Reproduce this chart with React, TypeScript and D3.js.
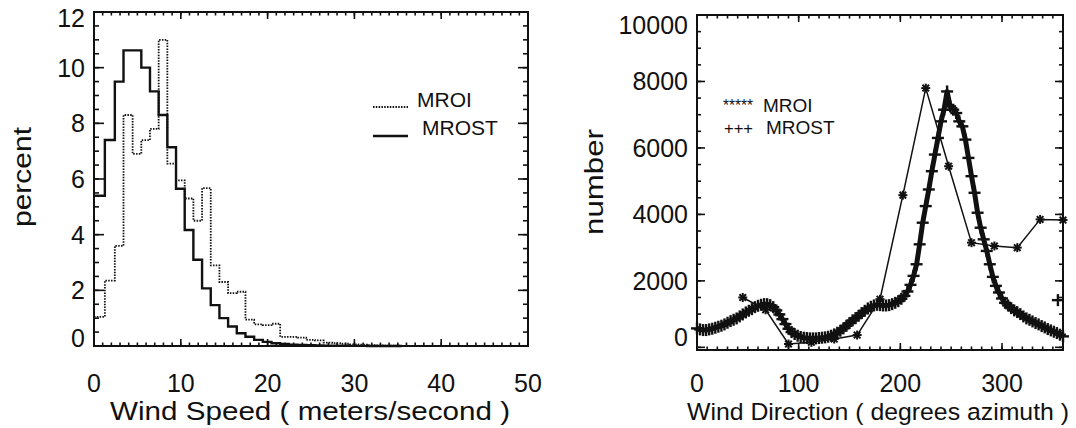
import React from 'react';
import * as d3 from 'd3';

// ---------- Left panel: wind speed histograms ----------
const speedEdges = [0, 1.25, 2.4, 3.4, 4.45, 5.45, 6.45, 7.45, 8.45, 9.45, 10.45, 11.45, 12.45, 13.45, 14.45, 15.45, 16.45, 17.45, 18.45, 19.45, 20.45, 21.45, 22.45, 23.45, 24.45, 25.45, 26.45, 27.45, 28.45, 29.45, 30.45, 31.45, 32.45, 33.45, 34.45, 35.45];
const mroiPct = [1.05, 2.35, 3.6, 8.3, 6.9, 7.4, 7.8, 11.0, 6.55, 5.95, 5.3, 4.5, 5.67, 2.9, 2.3, 1.9, 1.95, 0.95, 0.78, 0.75, 0.8, 0.33, 0.33, 0.3, 0.22, 0.2, 0.12, 0.1, 0.08, 0.06, 0.05, 0.03, 0.02, 0.01, 0.01];
const mrostPct = [5.4, 7.4, 9.5, 10.62, 10.62, 10.0, 9.15, 8.3, 7.14, 5.65, 4.17, 3.1, 2.07, 1.47, 1.0, 0.7, 0.46, 0.33, 0.22, 0.15, 0.1, 0.07, 0.05, 0.04, 0.03, 0.02, 0.015, 0.01, 0.01, 0.005, 0.005, 0, 0, 0, 0];
const speedTicks = [0, 10, 20, 30, 40, 50];
const pctTicks = [0, 2, 4, 6, 8, 10, 12];

// ---------- Right panel: wind direction counts ----------
const mrostDeg = [0, 3, 6, 9, 12, 15, 18, 21, 24, 27, 30, 33, 36, 39, 42, 45, 48, 51, 54, 57, 60, 63, 66, 69, 72, 75, 78, 81, 84, 87, 90, 93, 96, 99, 102, 105, 108, 111, 114, 117, 120, 123, 126, 129, 132, 135, 138, 141, 144, 147, 150, 153, 156, 159, 162, 165, 168, 171, 174, 177, 180, 183, 186, 189, 192, 195, 198, 201, 204, 207, 210, 213, 216, 219, 222, 225, 228, 231, 234, 237, 240, 243, 246, 249, 252, 255, 258, 261, 264, 267, 270, 273, 276, 279, 282, 285, 288, 291, 294, 297, 300, 303, 306, 309, 312, 315, 318, 321, 324, 327, 330, 333, 336, 339, 342, 345, 348, 351, 354, 357, 360];
const mrostCount = [570, 540, 520, 520, 540, 560, 590, 620, 650, 690, 740, 790, 830, 870, 930, 990, 1050, 1100, 1150, 1210, 1250, 1280, 1300, 1300, 1270, 1210, 1110, 990, 850, 700, 560, 460, 400, 350, 310, 290, 280, 270, 270, 270, 280, 290, 300, 320, 350, 390, 440, 500, 570, 650, 730, 810, 880, 950, 1030, 1100, 1170, 1220, 1260, 1280, 1270, 1260, 1260, 1270, 1300, 1340, 1390, 1460, 1550, 1680, 1880, 2150, 2500, 3100, 3750, 4250, 4750, 5300, 5800, 6300, 6800, 7150, 7700, 7250, 7150, 7050, 6800, 6650, 6250, 5700, 5150, 4650, 4050, 3600, 3250, 2900, 2500, 2120, 1850, 1650, 1470, 1340, 1260, 1180, 1110, 1060, 1000, 930, 870, 830, 780, 730, 690, 640, 600, 550, 510, 470, 430, 380, 330];
const mrostExtraDeg = [355];
const mrostExtraCount = [1420];
const mroiDeg = [45, 67.5, 90, 112.5, 135, 157.5, 180, 202.5, 225, 247.5, 270, 292.5, 315, 337.5, 360];
const mroiCount = [1500, 1130, 100, 150, 250, 370, 1450, 4580, 7800, 5450, 3150, 3050, 3000, 3850, 3830];
const dirTicks = [0, 100, 200, 300];
const countTicks = [0, 2000, 4000, 6000, 8000, 10000];

const FONT = "'Liberation Sans', Arial, Helvetica, sans-serif";
const INK = '#111';

type Lin = d3.ScaleLinear<number, number>;

function Frame(props: {
  x: Lin; y: Lin;
  xMajor: number[]; xMinor: number[]; yMajor: number[]; yMinor: number[];
  xMaj: number; xMin: number; yMaj: number; yMin: number;
  xLabels: number[]; yLabels: number[];
  topShift: number; bottomShift: number;
}) {
  const { x, y } = props;
  const [x0, x1] = x.range();
  const [y0, y1] = y.range(); // y0 bottom, y1 top
  const els: React.ReactNode[] = [];
  props.xMinor.forEach((v, i) => {
    const px = x(v);
    els.push(<line key={'xb' + i} x1={px} x2={px} y1={y0} y2={y0 - props.xMin} />);
    els.push(<line key={'xt' + i} x1={px} x2={px} y1={y1} y2={y1 + props.xMin} />);
  });
  props.xMajor.forEach((v, i) => {
    const px = x(v);
    els.push(<line key={'XB' + i} x1={px} x2={px} y1={y0} y2={y0 - props.xMaj} />);
    els.push(<line key={'XT' + i} x1={px} x2={px} y1={y1} y2={y1 + props.xMaj} />);
  });
  props.yMinor.forEach((v, i) => {
    const py = y(v);
    els.push(<line key={'yl' + i} x1={x0} x2={x0 + props.yMin} y1={py} y2={py} />);
    els.push(<line key={'yr' + i} x1={x1} x2={x1 - props.yMin} y1={py} y2={py} />);
  });
  props.yMajor.forEach((v, i) => {
    const py = y(v);
    els.push(<line key={'YL' + i} x1={x0} x2={x0 + props.yMaj} y1={py} y2={py} />);
    els.push(<line key={'YR' + i} x1={x1} x2={x1 - props.yMaj} y1={py} y2={py} />);
  });
  const yl = props.yLabels;
  return (
    <g>
      <g stroke={INK} strokeWidth={1.6}>{els}</g>
      <rect x={x0} y={y1} width={x1 - x0} height={y0 - y1} fill="none" stroke={INK} strokeWidth={2} />
      <g fontFamily={FONT} fontSize={25} fill={INK}>
        {props.xLabels.map((v) => (
          <text key={'xl' + v} x={x(v)} y={392} textAnchor="middle">{v}</text>
        ))}
        {yl.map((v, i) => {
          const shift = i === 0 ? props.bottomShift : i === yl.length - 1 ? props.topShift : 0;
          return (
            <text key={'yl' + v} x={x0 - 9} y={y(v) + shift} dy="0.36em" textAnchor="end">{v}</text>
          );
        })}
      </g>
    </g>
  );
}

function histPath(edges: number[], vals: number[], x: Lin, y: Lin) {
  const pts: [number, number][] = vals.map((v, i) => [edges[i], v]);
  pts.push([edges[vals.length], vals[vals.length - 1]]);
  return d3.line<[number, number]>().x((d) => x(d[0])).y((d) => y(d[1])).curve(d3.curveStepAfter)(pts) || '';
}

export default function App() {
  // Left
  const xs = d3.scaleLinear().domain([0, 50]).range([94, 528]);
  const ys = d3.scaleLinear().domain([0, 12]).range([346, 12]);
  // Right
  const xd = d3.scaleLinear().domain([0, 360]).range([697, 1063]);
  const yd = d3.scaleLinear().domain([-80, 10000]).range([350, 15]);

  const mrostPts: [number, number][] = mrostDeg.map((d, i) => [d, mrostCount[i]]);
  const mroiPts: [number, number][] = mroiDeg.map((d, i) => [d, mroiCount[i]]);
  const dirLine = d3.line<[number, number]>().x((d) => xd(d[0])).y((d) => yd(d[1]));
  const plusPts = mrostPts.concat(mrostExtraDeg.map((d, i) => [d, mrostExtraCount[i]] as [number, number]));

  return (
    <svg width={1076} height={428} style={{ position: 'absolute', left: 0, top: 0, background: '#fff' }}>
      <rect x={0} y={0} width={1076} height={428} fill="#fff" />
      {/* Left panel */}
      <Frame x={xs} y={ys}
        xMajor={speedTicks} xMinor={d3.range(0, 50.01, 1)}
        yMajor={pctTicks} yMinor={d3.range(0, 12.01, 0.5)}
        xMaj={7} xMin={3.5} yMaj={10} yMin={5}
        xLabels={speedTicks} yLabels={pctTicks} topShift={6} bottomShift={-8} />
      <path d={histPath(speedEdges, mroiPct, xs, ys)} fill="none" stroke={INK} strokeWidth={1.8} strokeDasharray="1.5 1.3" />
      <path d={histPath(speedEdges, mrostPct, xs, ys)} fill="none" stroke={INK} strokeWidth={2.4} />
      {/* left legend */}
      <line x1={373} x2={408} y1={107} y2={107} stroke={INK} strokeWidth={1.8} strokeDasharray="1.5 1.3" />
      <line x1={373} x2={408} y1={136} y2={136} stroke={INK} strokeWidth={2.4} />
      <g fontFamily={FONT} fontSize={21} fill={INK}>
        <text x={417} y={107}>MROI</text>
        <text x={422} y={135}>MROST</text>
      </g>
      <g fontFamily={FONT} fontSize={26} fill={INK}>
        <text x={110} y={420} textLength={400} lengthAdjust="spacingAndGlyphs">Wind Speed ( meters/second )</text>
        <text transform="translate(31,177) rotate(-90)" textAnchor="middle" textLength={100} lengthAdjust="spacingAndGlyphs">percent</text>
      </g>

      {/* Right panel */}
      <Frame x={xd} y={yd}
        xMajor={dirTicks} xMinor={d3.range(0, 360.01, 10)}
        yMajor={countTicks} yMinor={d3.range(0, 10000.01, 500)}
        xMaj={7} xMin={3.5} yMaj={8} yMin={4}
        xLabels={dirTicks} yLabels={countTicks} topShift={10} bottomShift={-10} />
      <path d={dirLine(mrostPts) || ''} fill="none" stroke={INK} strokeWidth={5} strokeLinejoin="round" />
      <g stroke={INK} strokeWidth={2.4}>
        {plusPts.map((p, i) => {
          const cx = xd(p[0]);
          const cy = yd(p[1]);
          return (
            <g key={'p' + i}>
              <line x1={cx - 6} x2={cx + 6} y1={cy} y2={cy} />
              <line x1={cx} x2={cx} y1={cy - 6} y2={cy + 6} />
            </g>
          );
        })}
      </g>
      <path d={dirLine(mroiPts) || ''} fill="none" stroke={INK} strokeWidth={1.5} />
      <g stroke={INK} strokeWidth={2}>
        {mroiPts.map((p, i) => {
          const cx = xd(p[0]);
          const cy = yd(p[1]);
          const r = 4.5;
          const q = 3.3;
          return (
            <g key={'a' + i}>
              <line x1={cx - r} x2={cx + r} y1={cy} y2={cy} />
              <line x1={cx} x2={cx} y1={cy - r} y2={cy + r} />
              <line x1={cx - q} x2={cx + q} y1={cy - q} y2={cy + q} />
              <line x1={cx - q} x2={cx + q} y1={cy + q} y2={cy - q} />
            </g>
          );
        })}
      </g>
      {/* right legend */}
      <g fontFamily={FONT} fill={INK}>
        <text x={723} y={111} fontSize={17} textLength={30} lengthAdjust="spacingAndGlyphs">*****</text>
        <text x={724} y={134} fontSize={17} textLength={29} lengthAdjust="spacingAndGlyphs">+++</text>
        <text x={763} y={112} fontSize={19}>MROI</text>
        <text x={766} y={134} fontSize={19}>MROST</text>
      </g>
      <g fontFamily={FONT} fill={INK}>
        <text x={687} y={420} fontSize={24.5} textLength={382} lengthAdjust="spacingAndGlyphs">Wind Direction ( degrees azimuth )</text>
        <text transform="translate(603,182) rotate(-90)" fontSize={26} textAnchor="middle" textLength={106} lengthAdjust="spacingAndGlyphs">number</text>
      </g>
    </svg>
  );
}
